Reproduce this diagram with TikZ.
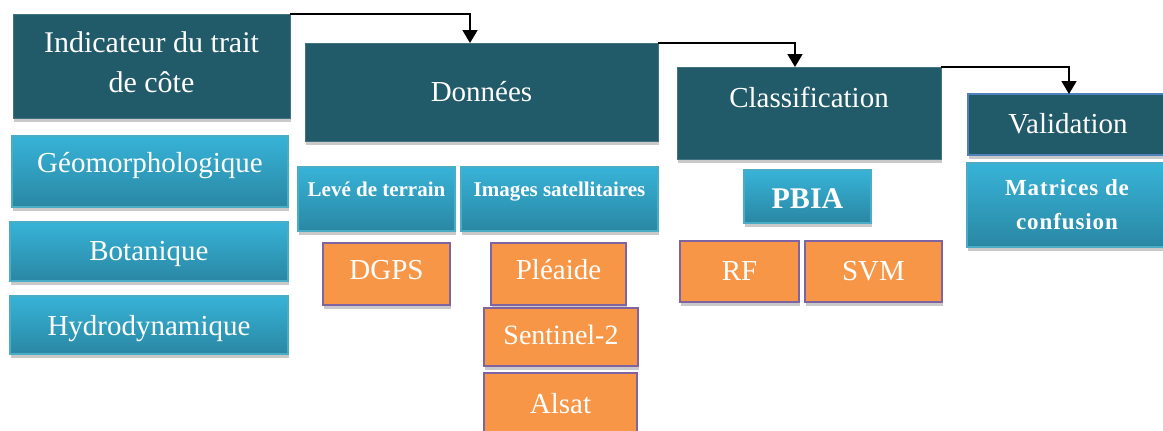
\documentclass[tikz,border=0pt]{standalone}
\usepackage{fontspec}
\setmainfont{Liberation Serif}
\usetikzlibrary{shadows,arrows.meta}
\definecolor{darkbox}{HTML}{215A69}
\definecolor{lbtop}{HTML}{37B3D8}
\definecolor{lbbot}{HTML}{2A87A3}
\definecolor{lbline}{HTML}{4BACC6}
\definecolor{orfill}{HTML}{F79646}
\definecolor{orline}{HTML}{8064A2}
\definecolor{valline}{HTML}{4F81BD}
\tikzset{
  base/.style={anchor=north west, inner sep=0pt, outer sep=0pt, text=white, align=center,
    drop shadow={shadow xshift=1pt, shadow yshift=-4pt, opacity=0.3, fill=black!70}},
  darkbox/.style={base, fill=darkbox, draw=darkbox!85!white, line width=0.6pt,
    font=\fontsize{29}{40}\selectfont},
  bluebox/.style={base, top color=lbtop, bottom color=lbbot, draw=lbline, line width=1.2pt,
    font=\fontsize{29}{36}\selectfont},
  boldblue/.style={bluebox, font=\fontsize{21}{34}\selectfont\bfseries},
  orbox/.style={base, fill=orfill, draw=orline, line width=1.8pt,
    font=\fontsize{29}{36}\selectfont},
  th/.style={text height=20pt, text depth=#1},
  th/.default=2pt,
  flow/.style={line width=1.8pt, -{Triangle[width=15pt,length=13pt]}}
}
\begin{document}
\begin{tikzpicture}[x=1pt,y=-1pt]
\useasboundingbox (0,0) rectangle (1163,431);
% dark headers
\node[darkbox, font=\fontsize{30}{40}\selectfont, minimum width=277pt, minimum height=104pt] (ind) at (13,14)
  {Indicateur du trait\\de côte\\[-32pt]};
\node[darkbox, th, minimum width=353pt, minimum height=98pt] (don) at (305,43) {Données};
\node[darkbox, th=32pt, minimum width=264pt, minimum height=92pt] (cls) at (677,67) {Classification};
\node[darkbox, th, draw=valline, line width=1.8pt, minimum width=200pt, minimum height=61pt] (val) at (968,94) {Validation};
% light blue boxes
\node[bluebox, th=18pt, minimum width=276pt, minimum height=71pt] (geo) at (12,136) {Géomorphologique};
\node[bluebox, th, minimum width=278pt, minimum height=59pt] (bot) at (10,222) {Botanique};
\node[bluebox, th=0pt, minimum width=278pt, minimum height=58pt] (hyd) at (10,296) {Hydrodynamique};
\node[boldblue, text height=15pt, text depth=20pt, minimum width=157pt, minimum height=64pt] (lev) at (298,167) {Levé de terrain};
\node[boldblue, text height=15pt, text depth=20pt, minimum width=197pt, minimum height=64pt] (img) at (461,167) {Images satellitaires};
\node[bluebox, font=\fontsize{30}{36}\selectfont\bfseries, text height=26pt, text depth=2pt, minimum width=127pt, minimum height=53pt] (pbia) at (744,170) {PBIA};
\node[boldblue, font=\fontsize{23}{34}\selectfont\bfseries, minimum width=200pt, minimum height=84pt] (mat) at (967,163)
  {\addfontfeature{LetterSpace=4}Matrices de\\\addfontfeature{LetterSpace=4}confusion};
% orange boxes
\node[orbox, th=10pt, minimum width=127pt, minimum height=62pt] (dgps) at (323,243) {DGPS};
\node[orbox, th=10pt, minimum width=135pt, minimum height=62pt] (ple) at (491,243) {Pléaide};
\node[orbox, th=6pt, font=\fontsize{28}{36}\selectfont, minimum width=154pt, minimum height=58pt] (sen) at (484,308) {Sentinel-2};
\node[orbox, th, minimum width=153pt, minimum height=62pt] (als) at (484,373) {Alsat};
\node[orbox, th, minimum width=119pt, minimum height=61pt] (rf) at (680,241) {RF};
\node[orbox, th, minimum width=137pt, minimum height=61pt] (svm) at (805,241) {SVM};
% connectors
\draw[flow] (ind.north east) -| ([xshift=-11.5pt]don.north);
\draw[flow] (don.north east) -| ([xshift=-14pt]cls.north);
\draw[flow] (cls.north east) -| ([xshift=1pt]val.north);
\end{tikzpicture}
\end{document}
